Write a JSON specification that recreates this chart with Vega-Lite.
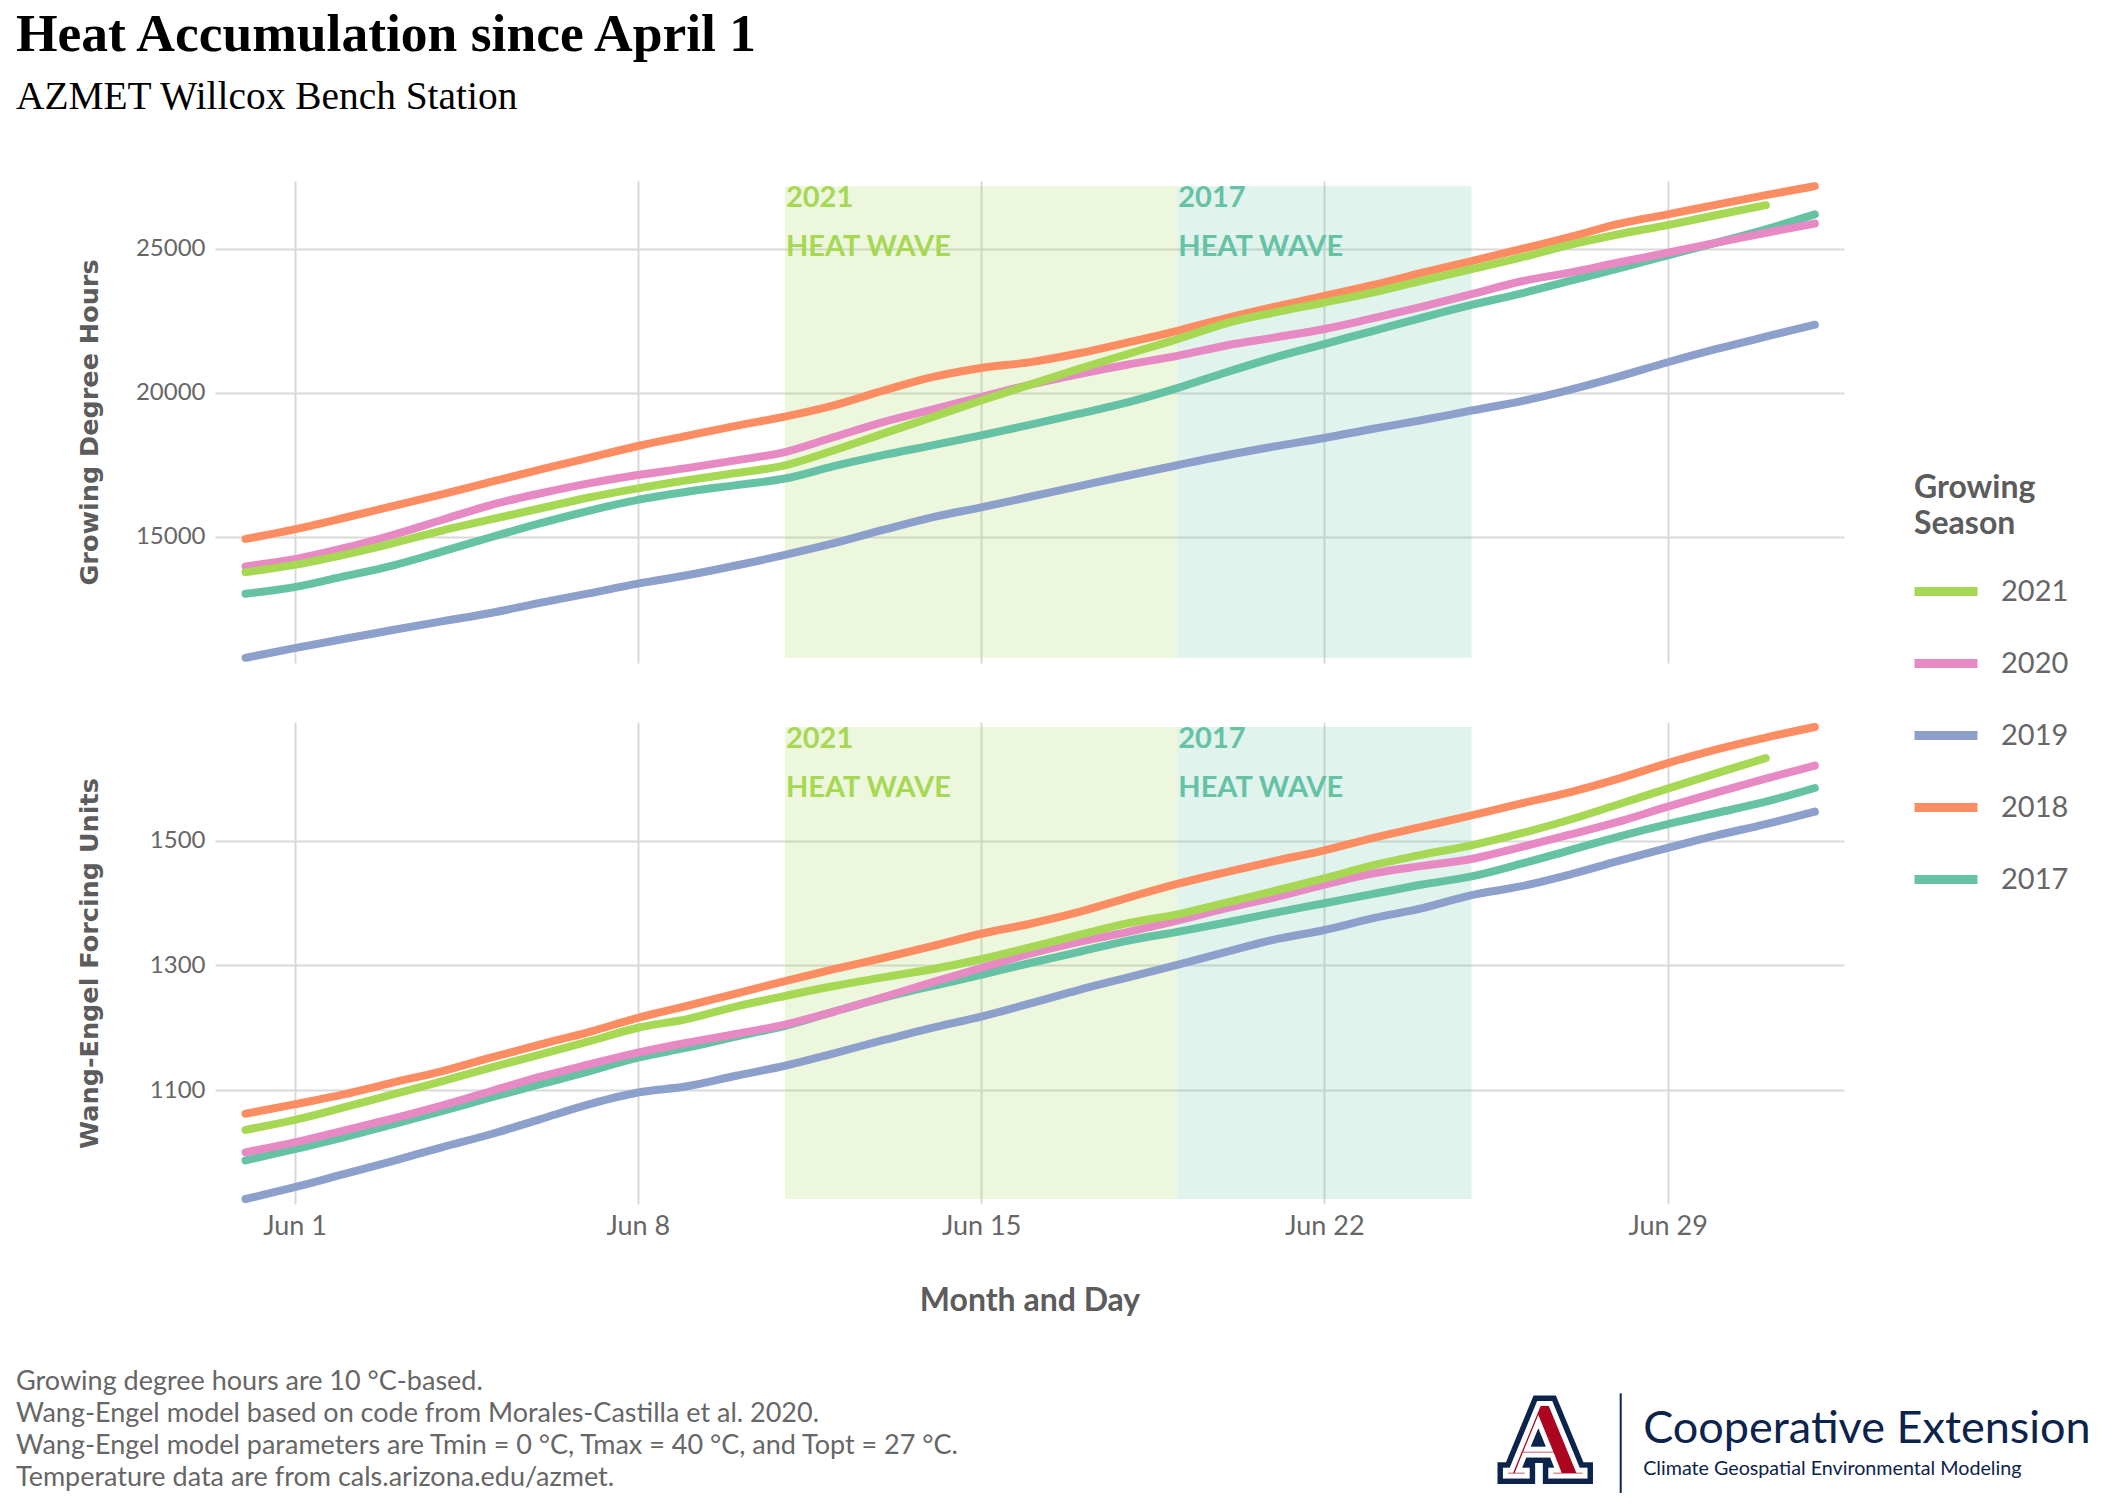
{
  "$schema": "https://vega.github.io/schema/vega-lite/v6.json",
  "background": "white",
  "padding": {"left": 16, "top": 8, "right": 0, "bottom": 0},
  "autosize": {"type": "pad"},
  "bounds": "flush",
  "spacing": 59,
  "title": {
    "text": "Heat Accumulation since April 1",
    "subtitle": "AZMET Willcox Bench Station",
    "anchor": "start", "frame": "group", "dx": -199, "align": "left",
    "font": "Liberation Serif", "fontSize": 53.5, "fontWeight": "bold", "color": "#000000",
    "subtitleFont": "Liberation Serif", "subtitleFontSize": 39.4, "subtitleColor": "#000000",
    "subtitlePadding": 15.5, "offset": 63.5
  },
  "datasets": {
    "waves": [
      {"panel": "gdh", "wave": "2021", "label": "2021\nHEAT WAVE", "start": "2021-06-11T00:00", "end": "2021-06-19T00:00", "lo": 10795, "hi": 27170},
      {"panel": "gdh", "wave": "2017", "label": "2017\nHEAT WAVE", "start": "2021-06-19T00:00", "end": "2021-06-25T00:00", "lo": 10795, "hi": 27170},
      {"panel": "we", "wave": "2021", "label": "2021\nHEAT WAVE", "start": "2021-06-11T00:00", "end": "2021-06-19T00:00", "lo": 925, "hi": 1683},
      {"panel": "we", "wave": "2017", "label": "2017\nHEAT WAVE", "start": "2021-06-19T00:00", "end": "2021-06-25T00:00", "lo": 925, "hi": 1683}
    ],
    "gdh": [
      {"d":"2021-05-31T00:00","s":"2017","v":13020},{"d":"2021-06-01T00:00","s":"2017","v":13250},{"d":"2021-06-02T00:00","s":"2017","v":13620},{"d":"2021-06-03T00:00","s":"2017","v":14000},{"d":"2021-06-04T00:00","s":"2017","v":14480},{"d":"2021-06-05T00:00","s":"2017","v":14980},{"d":"2021-06-06T00:00","s":"2017","v":15460},{"d":"2021-06-07T00:00","s":"2017","v":15900},{"d":"2021-06-08T00:00","s":"2017","v":16280},{"d":"2021-06-09T00:00","s":"2017","v":16560},{"d":"2021-06-10T00:00","s":"2017","v":16790},{"d":"2021-06-11T00:00","s":"2017","v":17020},{"d":"2021-06-12T00:00","s":"2017","v":17450},{"d":"2021-06-13T00:00","s":"2017","v":17830},{"d":"2021-06-14T00:00","s":"2017","v":18170},{"d":"2021-06-15T00:00","s":"2017","v":18520},{"d":"2021-06-16T00:00","s":"2017","v":18890},{"d":"2021-06-17T00:00","s":"2017","v":19270},{"d":"2021-06-18T00:00","s":"2017","v":19670},{"d":"2021-06-19T00:00","s":"2017","v":20160},{"d":"2021-06-20T00:00","s":"2017","v":20710},{"d":"2021-06-21T00:00","s":"2017","v":21230},{"d":"2021-06-22T00:00","s":"2017","v":21690},{"d":"2021-06-23T00:00","s":"2017","v":22150},{"d":"2021-06-24T00:00","s":"2017","v":22610},{"d":"2021-06-25T00:00","s":"2017","v":23050},{"d":"2021-06-26T00:00","s":"2017","v":23440},{"d":"2021-06-27T00:00","s":"2017","v":23880},{"d":"2021-06-28T00:00","s":"2017","v":24320},{"d":"2021-06-29T00:00","s":"2017","v":24770},{"d":"2021-06-30T00:00","s":"2017","v":25210},{"d":"2021-07-01T00:00","s":"2017","v":25670},{"d":"2021-07-02T00:00","s":"2017","v":26190},
      {"d":"2021-05-31T00:00","s":"2018","v":14923},{"d":"2021-06-01T00:00","s":"2018","v":15257},{"d":"2021-06-02T00:00","s":"2018","v":15650},{"d":"2021-06-03T00:00","s":"2018","v":16060},{"d":"2021-06-04T00:00","s":"2018","v":16470},{"d":"2021-06-05T00:00","s":"2018","v":16900},{"d":"2021-06-06T00:00","s":"2018","v":17330},{"d":"2021-06-07T00:00","s":"2018","v":17740},{"d":"2021-06-08T00:00","s":"2018","v":18150},{"d":"2021-06-09T00:00","s":"2018","v":18500},{"d":"2021-06-10T00:00","s":"2018","v":18850},{"d":"2021-06-11T00:00","s":"2018","v":19170},{"d":"2021-06-12T00:00","s":"2018","v":19560},{"d":"2021-06-13T00:00","s":"2018","v":20070},{"d":"2021-06-14T00:00","s":"2018","v":20540},{"d":"2021-06-15T00:00","s":"2018","v":20860},{"d":"2021-06-16T00:00","s":"2018","v":21060},{"d":"2021-06-17T00:00","s":"2018","v":21370},{"d":"2021-06-18T00:00","s":"2018","v":21750},{"d":"2021-06-19T00:00","s":"2018","v":22150},{"d":"2021-06-20T00:00","s":"2018","v":22590},{"d":"2021-06-21T00:00","s":"2018","v":22990},{"d":"2021-06-22T00:00","s":"2018","v":23360},{"d":"2021-06-23T00:00","s":"2018","v":23740},{"d":"2021-06-24T00:00","s":"2018","v":24170},{"d":"2021-06-25T00:00","s":"2018","v":24570},{"d":"2021-06-26T00:00","s":"2018","v":24980},{"d":"2021-06-27T00:00","s":"2018","v":25400},{"d":"2021-06-28T00:00","s":"2018","v":25860},{"d":"2021-06-29T00:00","s":"2018","v":26190},{"d":"2021-06-30T00:00","s":"2018","v":26530},{"d":"2021-07-01T00:00","s":"2018","v":26860},{"d":"2021-07-02T00:00","s":"2018","v":27170},
      {"d":"2021-05-31T00:00","s":"2019","v":10795},{"d":"2021-06-01T00:00","s":"2019","v":11130},{"d":"2021-06-02T00:00","s":"2019","v":11450},{"d":"2021-06-03T00:00","s":"2019","v":11760},{"d":"2021-06-04T00:00","s":"2019","v":12060},{"d":"2021-06-05T00:00","s":"2019","v":12350},{"d":"2021-06-06T00:00","s":"2019","v":12700},{"d":"2021-06-07T00:00","s":"2019","v":13030},{"d":"2021-06-08T00:00","s":"2019","v":13370},{"d":"2021-06-09T00:00","s":"2019","v":13660},{"d":"2021-06-10T00:00","s":"2019","v":14000},{"d":"2021-06-11T00:00","s":"2019","v":14369},{"d":"2021-06-12T00:00","s":"2019","v":14773},{"d":"2021-06-13T00:00","s":"2019","v":15234},{"d":"2021-06-14T00:00","s":"2019","v":15672},{"d":"2021-06-15T00:00","s":"2019","v":16018},{"d":"2021-06-16T00:00","s":"2019","v":16387},{"d":"2021-06-17T00:00","s":"2019","v":16756},{"d":"2021-06-18T00:00","s":"2019","v":17125},{"d":"2021-06-19T00:00","s":"2019","v":17482},{"d":"2021-06-20T00:00","s":"2019","v":17828},{"d":"2021-06-21T00:00","s":"2019","v":18140},{"d":"2021-06-22T00:00","s":"2019","v":18428},{"d":"2021-06-23T00:00","s":"2019","v":18750},{"d":"2021-06-24T00:00","s":"2019","v":19050},{"d":"2021-06-25T00:00","s":"2019","v":19380},{"d":"2021-06-26T00:00","s":"2019","v":19700},{"d":"2021-06-27T00:00","s":"2019","v":20100},{"d":"2021-06-28T00:00","s":"2019","v":20560},{"d":"2021-06-29T00:00","s":"2019","v":21057},{"d":"2021-06-30T00:00","s":"2019","v":21518},{"d":"2021-07-01T00:00","s":"2019","v":21945},{"d":"2021-07-02T00:00","s":"2019","v":22360},
      {"d":"2021-05-31T00:00","s":"2020","v":13970},{"d":"2021-06-01T00:00","s":"2020","v":14220},{"d":"2021-06-02T00:00","s":"2020","v":14600},{"d":"2021-06-03T00:00","s":"2020","v":15060},{"d":"2021-06-04T00:00","s":"2020","v":15580},{"d":"2021-06-05T00:00","s":"2020","v":16100},{"d":"2021-06-06T00:00","s":"2020","v":16500},{"d":"2021-06-07T00:00","s":"2020","v":16850},{"d":"2021-06-08T00:00","s":"2020","v":17140},{"d":"2021-06-09T00:00","s":"2020","v":17380},{"d":"2021-06-10T00:00","s":"2020","v":17650},{"d":"2021-06-11T00:00","s":"2020","v":17940},{"d":"2021-06-12T00:00","s":"2020","v":18460},{"d":"2021-06-13T00:00","s":"2020","v":18980},{"d":"2021-06-14T00:00","s":"2020","v":19410},{"d":"2021-06-15T00:00","s":"2020","v":19850},{"d":"2021-06-16T00:00","s":"2020","v":20280},{"d":"2021-06-17T00:00","s":"2020","v":20650},{"d":"2021-06-18T00:00","s":"2020","v":20980},{"d":"2021-06-19T00:00","s":"2020","v":21280},{"d":"2021-06-20T00:00","s":"2020","v":21640},{"d":"2021-06-21T00:00","s":"2020","v":21920},{"d":"2021-06-22T00:00","s":"2020","v":22210},{"d":"2021-06-23T00:00","s":"2020","v":22590},{"d":"2021-06-24T00:00","s":"2020","v":22990},{"d":"2021-06-25T00:00","s":"2020","v":23420},{"d":"2021-06-26T00:00","s":"2020","v":23860},{"d":"2021-06-27T00:00","s":"2020","v":24170},{"d":"2021-06-28T00:00","s":"2020","v":24520},{"d":"2021-06-29T00:00","s":"2020","v":24860},{"d":"2021-06-30T00:00","s":"2020","v":25210},{"d":"2021-07-01T00:00","s":"2020","v":25550},{"d":"2021-07-02T00:00","s":"2020","v":25870},
      {"d":"2021-05-31T00:00","s":"2021","v":13770},{"d":"2021-06-01T00:00","s":"2021","v":14020},{"d":"2021-06-02T00:00","s":"2021","v":14370},{"d":"2021-06-03T00:00","s":"2021","v":14770},{"d":"2021-06-04T00:00","s":"2021","v":15210},{"d":"2021-06-05T00:00","s":"2021","v":15600},{"d":"2021-06-06T00:00","s":"2021","v":15980},{"d":"2021-06-07T00:00","s":"2021","v":16360},{"d":"2021-06-08T00:00","s":"2021","v":16680},{"d":"2021-06-09T00:00","s":"2021","v":16960},{"d":"2021-06-10T00:00","s":"2021","v":17210},{"d":"2021-06-11T00:00","s":"2021","v":17480},{"d":"2021-06-12T00:00","s":"2021","v":18000},{"d":"2021-06-13T00:00","s":"2021","v":18580},{"d":"2021-06-14T00:00","s":"2021","v":19150},{"d":"2021-06-15T00:00","s":"2021","v":19730},{"d":"2021-06-16T00:00","s":"2021","v":20280},{"d":"2021-06-17T00:00","s":"2021","v":20830},{"d":"2021-06-18T00:00","s":"2021","v":21350},{"d":"2021-06-19T00:00","s":"2021","v":21860},{"d":"2021-06-20T00:00","s":"2021","v":22410},{"d":"2021-06-21T00:00","s":"2021","v":22790},{"d":"2021-06-22T00:00","s":"2021","v":23130},{"d":"2021-06-23T00:00","s":"2021","v":23480},{"d":"2021-06-24T00:00","s":"2021","v":23890},{"d":"2021-06-25T00:00","s":"2021","v":24290},{"d":"2021-06-26T00:00","s":"2021","v":24690},{"d":"2021-06-27T00:00","s":"2021","v":25130},{"d":"2021-06-28T00:00","s":"2021","v":25500},{"d":"2021-06-29T00:00","s":"2021","v":25820},{"d":"2021-06-30T00:00","s":"2021","v":26170},{"d":"2021-07-01T00:00","s":"2021","v":26510}
    ],
    "we": [
      {"d":"2021-05-31T00:00","s":"2017","v":987},{"d":"2021-06-01T00:00","s":"2017","v":1005},{"d":"2021-06-02T00:00","s":"2017","v":1024},{"d":"2021-06-03T00:00","s":"2017","v":1045},{"d":"2021-06-04T00:00","s":"2017","v":1066},{"d":"2021-06-05T00:00","s":"2017","v":1088},{"d":"2021-06-06T00:00","s":"2017","v":1109},{"d":"2021-06-07T00:00","s":"2017","v":1130},{"d":"2021-06-08T00:00","s":"2017","v":1152},{"d":"2021-06-09T00:00","s":"2017","v":1168},{"d":"2021-06-10T00:00","s":"2017","v":1186},{"d":"2021-06-11T00:00","s":"2017","v":1203},{"d":"2021-06-12T00:00","s":"2017","v":1226},{"d":"2021-06-13T00:00","s":"2017","v":1248},{"d":"2021-06-14T00:00","s":"2017","v":1267},{"d":"2021-06-15T00:00","s":"2017","v":1285},{"d":"2021-06-16T00:00","s":"2017","v":1304},{"d":"2021-06-17T00:00","s":"2017","v":1322},{"d":"2021-06-18T00:00","s":"2017","v":1340},{"d":"2021-06-19T00:00","s":"2017","v":1354},{"d":"2021-06-20T00:00","s":"2017","v":1369},{"d":"2021-06-21T00:00","s":"2017","v":1385},{"d":"2021-06-22T00:00","s":"2017","v":1400},{"d":"2021-06-23T00:00","s":"2017","v":1415},{"d":"2021-06-24T00:00","s":"2017","v":1430},{"d":"2021-06-25T00:00","s":"2017","v":1443},{"d":"2021-06-26T00:00","s":"2017","v":1463},{"d":"2021-06-27T00:00","s":"2017","v":1485},{"d":"2021-06-28T00:00","s":"2017","v":1507},{"d":"2021-06-29T00:00","s":"2017","v":1527},{"d":"2021-06-30T00:00","s":"2017","v":1545},{"d":"2021-07-01T00:00","s":"2017","v":1563},{"d":"2021-07-02T00:00","s":"2017","v":1585},
      {"d":"2021-05-31T00:00","s":"2018","v":1062},{"d":"2021-06-01T00:00","s":"2018","v":1077},{"d":"2021-06-02T00:00","s":"2018","v":1093},{"d":"2021-06-03T00:00","s":"2018","v":1112},{"d":"2021-06-04T00:00","s":"2018","v":1130},{"d":"2021-06-05T00:00","s":"2018","v":1152},{"d":"2021-06-06T00:00","s":"2018","v":1173},{"d":"2021-06-07T00:00","s":"2018","v":1193},{"d":"2021-06-08T00:00","s":"2018","v":1216},{"d":"2021-06-09T00:00","s":"2018","v":1235},{"d":"2021-06-10T00:00","s":"2018","v":1255},{"d":"2021-06-11T00:00","s":"2018","v":1275},{"d":"2021-06-12T00:00","s":"2018","v":1294},{"d":"2021-06-13T00:00","s":"2018","v":1312},{"d":"2021-06-14T00:00","s":"2018","v":1331},{"d":"2021-06-15T00:00","s":"2018","v":1351},{"d":"2021-06-16T00:00","s":"2018","v":1367},{"d":"2021-06-17T00:00","s":"2018","v":1386},{"d":"2021-06-18T00:00","s":"2018","v":1409},{"d":"2021-06-19T00:00","s":"2018","v":1431},{"d":"2021-06-20T00:00","s":"2018","v":1450},{"d":"2021-06-21T00:00","s":"2018","v":1468},{"d":"2021-06-22T00:00","s":"2018","v":1485},{"d":"2021-06-23T00:00","s":"2018","v":1505},{"d":"2021-06-24T00:00","s":"2018","v":1523},{"d":"2021-06-25T00:00","s":"2018","v":1541},{"d":"2021-06-26T00:00","s":"2018","v":1560},{"d":"2021-06-27T00:00","s":"2018","v":1578},{"d":"2021-06-28T00:00","s":"2018","v":1600},{"d":"2021-06-29T00:00","s":"2018","v":1625},{"d":"2021-06-30T00:00","s":"2018","v":1647},{"d":"2021-07-01T00:00","s":"2018","v":1666},{"d":"2021-07-02T00:00","s":"2018","v":1683},
      {"d":"2021-05-31T00:00","s":"2019","v":925},{"d":"2021-06-01T00:00","s":"2019","v":944},{"d":"2021-06-02T00:00","s":"2019","v":965},{"d":"2021-06-03T00:00","s":"2019","v":986},{"d":"2021-06-04T00:00","s":"2019","v":1008},{"d":"2021-06-05T00:00","s":"2019","v":1029},{"d":"2021-06-06T00:00","s":"2019","v":1053},{"d":"2021-06-07T00:00","s":"2019","v":1077},{"d":"2021-06-08T00:00","s":"2019","v":1096},{"d":"2021-06-09T00:00","s":"2019","v":1106},{"d":"2021-06-10T00:00","s":"2019","v":1123},{"d":"2021-06-11T00:00","s":"2019","v":1139},{"d":"2021-06-12T00:00","s":"2019","v":1159},{"d":"2021-06-13T00:00","s":"2019","v":1180},{"d":"2021-06-14T00:00","s":"2019","v":1200},{"d":"2021-06-15T00:00","s":"2019","v":1218},{"d":"2021-06-16T00:00","s":"2019","v":1239},{"d":"2021-06-17T00:00","s":"2019","v":1261},{"d":"2021-06-18T00:00","s":"2019","v":1281},{"d":"2021-06-19T00:00","s":"2019","v":1301},{"d":"2021-06-20T00:00","s":"2019","v":1322},{"d":"2021-06-21T00:00","s":"2019","v":1342},{"d":"2021-06-22T00:00","s":"2019","v":1357},{"d":"2021-06-23T00:00","s":"2019","v":1376},{"d":"2021-06-24T00:00","s":"2019","v":1392},{"d":"2021-06-25T00:00","s":"2019","v":1413},{"d":"2021-06-26T00:00","s":"2019","v":1427},{"d":"2021-06-27T00:00","s":"2019","v":1446},{"d":"2021-06-28T00:00","s":"2019","v":1468},{"d":"2021-06-29T00:00","s":"2019","v":1489},{"d":"2021-06-30T00:00","s":"2019","v":1509},{"d":"2021-07-01T00:00","s":"2019","v":1527},{"d":"2021-07-02T00:00","s":"2019","v":1547},
      {"d":"2021-05-31T00:00","s":"2020","v":1000},{"d":"2021-06-01T00:00","s":"2020","v":1016},{"d":"2021-06-02T00:00","s":"2020","v":1035},{"d":"2021-06-03T00:00","s":"2020","v":1054},{"d":"2021-06-04T00:00","s":"2020","v":1075},{"d":"2021-06-05T00:00","s":"2020","v":1098},{"d":"2021-06-06T00:00","s":"2020","v":1121},{"d":"2021-06-07T00:00","s":"2020","v":1141},{"d":"2021-06-08T00:00","s":"2020","v":1160},{"d":"2021-06-09T00:00","s":"2020","v":1176},{"d":"2021-06-10T00:00","s":"2020","v":1190},{"d":"2021-06-11T00:00","s":"2020","v":1205},{"d":"2021-06-12T00:00","s":"2020","v":1226},{"d":"2021-06-13T00:00","s":"2020","v":1249},{"d":"2021-06-14T00:00","s":"2020","v":1273},{"d":"2021-06-15T00:00","s":"2020","v":1296},{"d":"2021-06-16T00:00","s":"2020","v":1319},{"d":"2021-06-17T00:00","s":"2020","v":1338},{"d":"2021-06-18T00:00","s":"2020","v":1354},{"d":"2021-06-19T00:00","s":"2020","v":1372},{"d":"2021-06-20T00:00","s":"2020","v":1392},{"d":"2021-06-21T00:00","s":"2020","v":1410},{"d":"2021-06-22T00:00","s":"2020","v":1430},{"d":"2021-06-23T00:00","s":"2020","v":1448},{"d":"2021-06-24T00:00","s":"2020","v":1460},{"d":"2021-06-25T00:00","s":"2020","v":1471},{"d":"2021-06-26T00:00","s":"2020","v":1490},{"d":"2021-06-27T00:00","s":"2020","v":1510},{"d":"2021-06-28T00:00","s":"2020","v":1531},{"d":"2021-06-29T00:00","s":"2020","v":1555},{"d":"2021-06-30T00:00","s":"2020","v":1578},{"d":"2021-07-01T00:00","s":"2020","v":1600},{"d":"2021-07-02T00:00","s":"2020","v":1621},
      {"d":"2021-05-31T00:00","s":"2021","v":1036},{"d":"2021-06-01T00:00","s":"2021","v":1052},{"d":"2021-06-02T00:00","s":"2021","v":1072},{"d":"2021-06-03T00:00","s":"2021","v":1093},{"d":"2021-06-04T00:00","s":"2021","v":1114},{"d":"2021-06-05T00:00","s":"2021","v":1136},{"d":"2021-06-06T00:00","s":"2021","v":1157},{"d":"2021-06-07T00:00","s":"2021","v":1178},{"d":"2021-06-08T00:00","s":"2021","v":1200},{"d":"2021-06-09T00:00","s":"2021","v":1214},{"d":"2021-06-10T00:00","s":"2021","v":1234},{"d":"2021-06-11T00:00","s":"2021","v":1251},{"d":"2021-06-12T00:00","s":"2021","v":1267},{"d":"2021-06-13T00:00","s":"2021","v":1281},{"d":"2021-06-14T00:00","s":"2021","v":1294},{"d":"2021-06-15T00:00","s":"2021","v":1310},{"d":"2021-06-16T00:00","s":"2021","v":1329},{"d":"2021-06-17T00:00","s":"2021","v":1349},{"d":"2021-06-18T00:00","s":"2021","v":1368},{"d":"2021-06-19T00:00","s":"2021","v":1382},{"d":"2021-06-20T00:00","s":"2021","v":1401},{"d":"2021-06-21T00:00","s":"2021","v":1420},{"d":"2021-06-22T00:00","s":"2021","v":1440},{"d":"2021-06-23T00:00","s":"2021","v":1461},{"d":"2021-06-24T00:00","s":"2021","v":1478},{"d":"2021-06-25T00:00","s":"2021","v":1493},{"d":"2021-06-26T00:00","s":"2021","v":1512},{"d":"2021-06-27T00:00","s":"2021","v":1534},{"d":"2021-06-28T00:00","s":"2021","v":1559},{"d":"2021-06-29T00:00","s":"2021","v":1584},{"d":"2021-06-30T00:00","s":"2021","v":1609},{"d":"2021-07-01T00:00","s":"2021","v":1633}
    ]
  },
  "vconcat": [
    {
      "width": 1629, "height": 482,
      "layer": [
        {
          "data": {"name": "waves"},
          "transform": [{"filter": "datum.panel == 'gdh'"}],
          "mark": {"type": "rect", "opacity": 0.2},
          "encoding": {
            "x": {"field": "start", "type": "temporal"},
            "x2": {"field": "end"},
            "y": {"field": "lo", "type": "quantitative"},
            "y2": {"field": "hi"},
            "fill": {"field": "wave", "type": "nominal", "scale": {"domain": ["2021", "2017"], "range": ["#A6D854", "#66C2A5"]}, "legend": null}
          }
        },
        {
          "data": {"name": "gdh"},
          "mark": {"type": "line", "strokeWidth": 8, "strokeCap": "round", "strokeJoin": "round", "interpolate": "monotone"},
          "encoding": {
            "x": {"field": "d", "type": "temporal",
              "scale": {"domain": [{"year": 2021, "month": 5, "date": 30, "hours": 9, "minutes": 3}, {"year": 2021, "month": 7, "date": 2, "hours": 14, "minutes": 17}]},
              "axis": {"values": [{"year": 2021, "month": 6, "date": 1}, {"year": 2021, "month": 6, "date": 8}, {"year": 2021, "month": 6, "date": 15}, {"year": 2021, "month": 6, "date": 22}, {"year": 2021, "month": 6, "date": 29}], "labels": false, "title": null, "grid": true}},
            "y": {"field": "v", "type": "quantitative",
              "scale": {"domain": [10615, 27350], "nice": false, "zero": false},
              "axis": {"values": [15000, 20000, 25000], "format": "d", "title": "Growing Degree Hours", "titleX": -113, "titleY": 241}},
            "color": {"field": "s", "type": "nominal",
              "scale": {"domain": ["2021", "2020", "2019", "2018", "2017"], "range": ["#A6D854", "#E78AC3", "#8DA0CB", "#FC8D62", "#66C2A5"]},
              "legend": {"title": ["Growing", "Season"]}}
          }
        },
        {
          "data": {"name": "waves"},
          "transform": [{"filter": "datum.panel == 'gdh'"}],
          "mark": {"type": "text", "align": "left", "baseline": "top", "fontSize": 29, "fontWeight": "bold", "lineBreak": "\n", "lineHeight": 49, "dx": 1, "dy": -2},
          "encoding": {
            "x": {"field": "start", "type": "temporal"},
            "y": {"field": "hi", "type": "quantitative"},
            "text": {"field": "label"},
            "fill": {"field": "wave", "type": "nominal", "legend": null}
          }
        }
      ]
    },
    {
      "width": 1629, "height": 482,
      "title": {
        "text": ["Growing degree hours are 10 °C-based.", "Wang-Engel model based on code from Morales-Castilla et al. 2020.", "Wang-Engel model parameters are Tmin = 0 °C, Tmax = 40 °C, and Topt = 27 °C.", "Temperature data are from cals.arizona.edu/azmet."],
        "orient": "bottom", "anchor": "start", "frame": "group", "align": "left", "dx": -199, "offset": -127.5,
        "font": "Lato", "fontSize": 27, "fontWeight": "normal", "color": "#666666", "lineHeight": 32.2
      },
      "layer": [
        {
          "data": {"name": "waves"},
          "transform": [{"filter": "datum.panel == 'we'"}],
          "mark": {"type": "rect", "opacity": 0.2},
          "encoding": {
            "x": {"field": "start", "type": "temporal"},
            "x2": {"field": "end"},
            "y": {"field": "lo", "type": "quantitative"},
            "y2": {"field": "hi"},
            "fill": {"field": "wave", "type": "nominal", "scale": {"domain": ["2021", "2017"], "range": ["#A6D854", "#66C2A5"]}, "legend": null}
          }
        },
        {
          "data": {"name": "we"},
          "mark": {"type": "line", "strokeWidth": 8, "strokeCap": "round", "strokeJoin": "round", "interpolate": "monotone"},
          "encoding": {
            "x": {"field": "d", "type": "temporal",
              "scale": {"domain": [{"year": 2021, "month": 5, "date": 30, "hours": 9, "minutes": 3}, {"year": 2021, "month": 7, "date": 2, "hours": 14, "minutes": 17}]},
              "axis": {"values": [{"year": 2021, "month": 6, "date": 1}, {"year": 2021, "month": 6, "date": 8}, {"year": 2021, "month": 6, "date": 15}, {"year": 2021, "month": 6, "date": 22}, {"year": 2021, "month": 6, "date": 29}], "format": "%b %-d", "title": "Month and Day", "grid": true, "labelPadding": 9, "labelFontSize": 27, "titlePadding": 46, "titleFontSize": 32}},
            "y": {"field": "v", "type": "quantitative",
              "scale": {"domain": [917, 1691], "nice": false, "zero": false},
              "axis": {"values": [1100, 1300, 1500], "format": "d", "title": "Wang-Engel Forcing Units", "titleX": -113, "titleY": 241}},
            "color": {"field": "s", "type": "nominal",
              "scale": {"domain": ["2021", "2020", "2019", "2018", "2017"], "range": ["#A6D854", "#E78AC3", "#8DA0CB", "#FC8D62", "#66C2A5"]},
              "legend": {"title": ["Growing", "Season"]}}
          }
        },
        {
          "data": {"name": "waves"},
          "transform": [{"filter": "datum.panel == 'we'"}],
          "mark": {"type": "text", "align": "left", "baseline": "top", "fontSize": 29, "fontWeight": "bold", "lineBreak": "\n", "lineHeight": 49, "dx": 1, "dy": -2},
          "encoding": {
            "x": {"field": "start", "type": "temporal"},
            "y": {"field": "hi", "type": "quantitative"},
            "text": {"field": "label"},
            "fill": {"field": "wave", "type": "nominal", "legend": null}
          }
        },
        {
          "data": {"values": [{}]},
          "mark": {"type": "rule", "color": "#0C234B", "strokeWidth": 2},
          "encoding": {
            "x": {"datum": {"year": 2021, "month": 6, "date": 28, "hours": 1}, "type": "temporal"},
            "y": {"datum": 613, "type": "quantitative"},
            "y2": {"datum": 453}
          }
        },
        {
          "data": {"values": [{}]},
          "mark": {"type": "text", "text": "A", "align": "center", "baseline": "alphabetic", "font": "DejaVu Serif", "fontWeight": "bold", "fontSize": 100, "fill": "#0C234B", "stroke": "#0C234B", "strokeWidth": 16, "strokeJoin": "miter"},
          "encoding": {
            "x": {"datum": {"year": 2021, "month": 6, "date": 26, "hours": 12}, "type": "temporal"},
            "y": {"datum": 480, "type": "quantitative"}
          }
        },
        {
          "data": {"values": [{}]},
          "mark": {"type": "text", "text": "A", "align": "center", "baseline": "alphabetic", "font": "DejaVu Serif", "fontWeight": "bold", "fontSize": 100, "fill": "#AB0520", "stroke": "#FFFFFF", "strokeWidth": 5, "strokeJoin": "miter"},
          "encoding": {
            "x": {"datum": {"year": 2021, "month": 6, "date": 26, "hours": 12}, "type": "temporal"},
            "y": {"datum": 480, "type": "quantitative"}
          }
        },
        {
          "data": {"values": [{}]},
          "mark": {"type": "text", "text": "Cooperative Extension", "align": "left", "baseline": "alphabetic", "font": "Lato", "fontSize": 45, "fill": "#0C234B"},
          "encoding": {
            "x": {"datum": {"year": 2021, "month": 6, "date": 28, "hours": 12}, "type": "temporal"},
            "y": {"datum": 533, "type": "quantitative"}
          }
        },
        {
          "data": {"values": [{}]},
          "mark": {"type": "text", "text": "Climate Geospatial Environmental Modeling", "align": "left", "baseline": "alphabetic", "font": "Lato", "fontSize": 19.7, "fill": "#0C234B"},
          "encoding": {
            "x": {"datum": {"year": 2021, "month": 6, "date": 28, "hours": 12}, "type": "temporal"},
            "y": {"datum": 482, "type": "quantitative"}
          }
        }
      ]
    }
  ],
  "resolve": {"scale": {"color": "shared", "fill": "shared"}},
  "config": {
    "font": "Lato",
    "view": {"stroke": null},
    "axis": {
      "domain": false, "ticks": false,
      "gridColor": "#D9D9D9", "gridWidth": 2,
      "labelColor": "#666666", "labelFont": "Lato", "labelFontSize": 24, "labelPadding": 10,
      "titleColor": "#5C5C5C", "titleFont": "Lato", "titleFontWeight": "bold"
    },
    "axisY": {"titleFont": "DejaVu Sans", "titleFontSize": 25.5},
    "legend": {
      "orient": "none", "legendX": 1699, "legendY": 291.5, "padding": 0,
      "titleFont": "Lato", "titleFontSize": 32, "titleFontWeight": "bold", "titleColor": "#5C5C5C", "titleLineHeight": 36, "titlePadding": 15,
      "labelFont": "Lato", "labelFontSize": 29, "labelColor": "#666666", "labelOffset": 19,
      "symbolType": "stroke", "symbolSize": 3969, "symbolStrokeWidth": 9, "symbolOffset": -4, "rowPadding": 18
    }
  }
}
